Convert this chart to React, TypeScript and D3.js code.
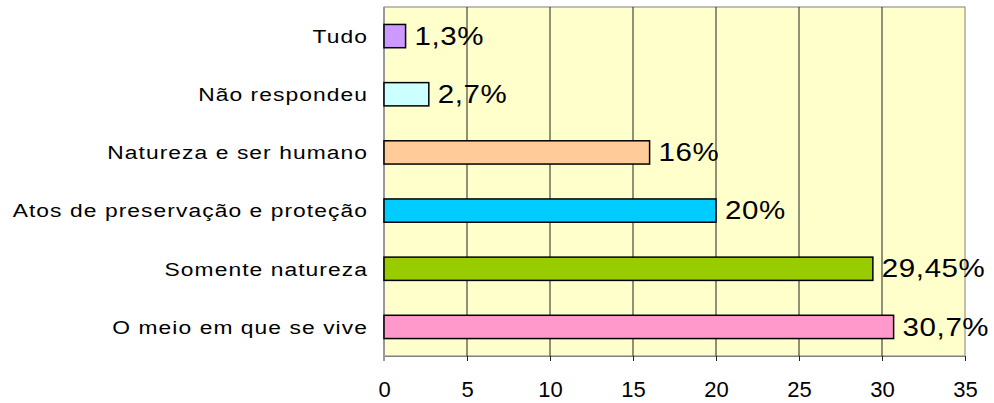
import React, { useEffect, useRef } from 'react';
import * as d3 from 'd3';

const categories = ['Tudo', 'Não respondeu', 'Natureza e ser humano', 'Atos de preservação e proteção', 'Somente natureza', 'O meio em que se vive'];
const values = [1.3, 2.7, 16, 20, 29.45, 30.7];
const valueLabels = ['1,3%', '2,7%', '16%', '20%', '29,45%', '30,7%'];
const barColors = ['#CC99FF', '#CCFFFF', '#FFCC99', '#00CCFF', '#99CC00', '#FF99CC'];
const xTicks = [0, 5, 10, 15, 20, 25, 30, 35];

const W = 994;
const H = 403;
const FONT = 'Liberation Sans, Arial, sans-serif';

const App: React.FC = () => {
  const svgRef = useRef<SVGSVGElement>(null);

  useEffect(() => {
    if (!svgRef.current) return;
    const svg = d3.select(svgRef.current);
    svg.selectAll('*').remove();

    const left = 384, right = 965, top = 7, bottom = 356;
    const x = d3.scaleLinear().domain([0, 35]).range([left, right]);
    const y = d3.scaleBand().domain(categories).range([top, bottom]).paddingInner(0.6).paddingOuter(0.3);

    // plot background
    svg.append('rect')
      .attr('x', left).attr('y', top)
      .attr('width', right - left).attr('height', bottom - top)
      .attr('fill', '#FFFFCC')
      .attr('stroke', '#808080')
      .attr('stroke-width', 1);

    // grid lines
    svg.append('g')
      .selectAll('line')
      .data(xTicks.slice(1, -1))
      .enter()
      .append('line')
      .attr('x1', d => x(d)).attr('x2', d => x(d))
      .attr('y1', top).attr('y2', bottom)
      .attr('stroke', '#222')
      .attr('stroke-width', 1);

    // x axis
    const xAxis = svg.append('g')
      .attr('transform', `translate(0,${bottom})`)
      .call(d3.axisBottom(x).tickValues(xTicks).tickSize(5).tickPadding(20).tickFormat(d => String(d)));
    xAxis.select('.domain').attr('stroke', '#808080');
    xAxis.selectAll('.tick line').attr('stroke', '#222');
    xAxis.selectAll('text')
      .attr('font-family', FONT)
      .attr('font-size', 22)
      .attr('fill', '#000');

    // left axis line
    svg.append('line')
      .attr('x1', left).attr('x2', left)
      .attr('y1', top).attr('y2', bottom + 5)
      .attr('stroke', '#999')
      .attr('stroke-width', 2);

    // bars
    svg.append('g')
      .selectAll('rect')
      .data(categories)
      .enter()
      .append('rect')
      .attr('x', x(0))
      .attr('y', d => y(d)!)
      .attr('width', (d, i) => x(values[i]) - x(0))
      .attr('height', y.bandwidth())
      .attr('fill', (d, i) => barColors[i])
      .attr('stroke', '#000')
      .attr('stroke-width', 1.5);

    // value labels (glyphs are horizontally stretched in the source)
    svg.append('g')
      .selectAll('text')
      .data(categories)
      .enter()
      .append('text')
      .attr('transform', (d, i) => `translate(${x(values[i]) + 9},${y(d)! + y.bandwidth() / 2}) scale(1.18,1)`)
      .attr('dominant-baseline', 'central')
      .attr('font-family', FONT)
      .attr('font-size', 25)
      .attr('letter-spacing', 0.5)
      .text((d, i) => valueLabels[i]);

    // category labels
    svg.append('g')
      .selectAll('text')
      .data(categories)
      .enter()
      .append('text')
      .attr('transform', d => `translate(368,${y(d)! + y.bandwidth() / 2}) scale(1.2,1)`)
      .attr('text-anchor', 'end')
      .attr('dominant-baseline', 'central')
      .attr('font-family', FONT)
      .attr('font-size', 19)
      .attr('letter-spacing', 0.9)
      .text(d => d);
  }, []);

  return (
    <svg ref={svgRef} width={W} height={H} style={{ position: 'absolute', left: 0, top: 0, background: '#fff' }} />
  );
};

export default App;
